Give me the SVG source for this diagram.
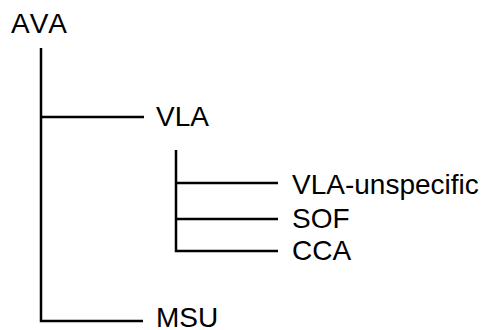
<svg xmlns="http://www.w3.org/2000/svg" width="488" height="330" viewBox="0 0 488 330">
  <style>
    .lbl { font-family: "Liberation Sans", Arial, sans-serif; font-size: 28px; fill: #000; font-kerning: none; }
    .ln { stroke: #000; stroke-width: 2.5; fill: none; stroke-linecap: butt; }
  </style>
  <rect width="488" height="330" fill="#fff"/>
  <g id="connectors">
    <path class="ln" d="M41 48 V321 H143"/>
    <path class="ln" d="M41 117 H144"/>
    <path class="ln" d="M176 150 V251 H278"/>
    <path class="ln" d="M176 183 H278"/>
    <path class="ln" d="M176 219 H278"/>
  </g>
  <g id="ava"><text class="lbl" x="11" y="33">AVA</text></g>
  <g id="vla"><text class="lbl" x="156" y="126">VLA</text></g>
  <g id="vla-unspecific"><text class="lbl" x="292" y="194">VLA-unspecific</text></g>
  <g id="sof"><text class="lbl" x="292" y="228">SOF</text></g>
  <g id="cca"><text class="lbl" x="292" y="260">CCA</text></g>
  <g id="msu"><text class="lbl" x="156" y="327">MSU</text></g>
</svg>
